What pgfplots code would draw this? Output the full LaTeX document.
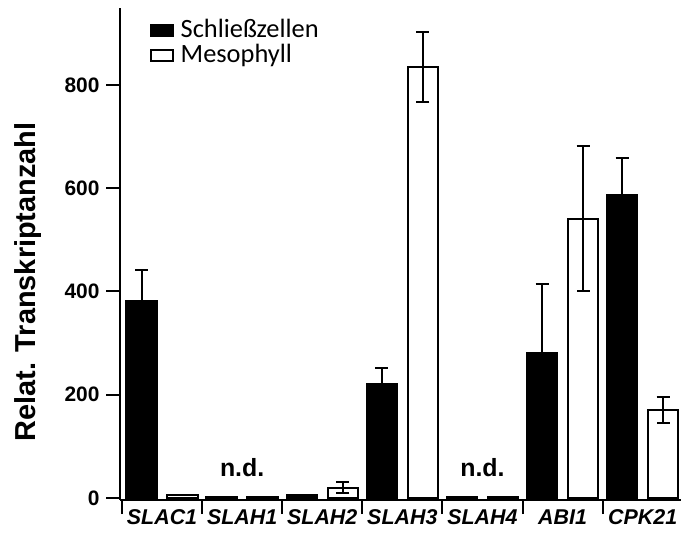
\documentclass[border=0pt]{standalone}
\usepackage{pgfplots}
\pgfplotsset{compat=1.18}
\usepackage{fontspec}
\setmainfont{Liberation Sans}
\newfontfamily\calibri{Carlito}
\begin{document}
\begin{tikzpicture}
\useasboundingbox (0,0) rectangle (681bp,533bp);
\begin{axis}[
  at={(120bp,33bp)}, anchor=south west,
  scale only axis, width=562.7bp, height=492bp,
  xmin=-0.525, xmax=6.5, ymin=-3.9, ymax=949,
  axis x line=bottom, axis y line=left,
  axis line style={-, line width=2bp},
  tick style={line width=2bp, black},
  tick align=outside, major tick length=14bp,
  ytick={0,200,400,600,800},
  yticklabel style={font=\fontsize{21}{21}\selectfont\bfseries, xshift=-3bp},
  /pgf/number format/assume math mode=true,
  xtick={-0.5,0.5,...,6.5},
  x tick label as interval,
  xticklabels={SLAC1,SLAH1,SLAH2,SLAH3,SLAH4,ABI1,CPK21},
  xticklabel style={font=\fontsize{21.5}{21.5}\selectfont\bfseries\itshape, yshift=8bp},
  clip=false,
  legend style={at={(rel axis cs:0.0533,0.98)}, anchor=north west, draw=none, fill=none,
    font=\calibri\fontsize{26.5}{26.5}\selectfont, inner sep=0pt, row sep=0pt, column sep=7bp,
    nodes={inner sep=0pt, text height=19bp, text depth=6bp}},
  legend cell align=left,
  error bars/error bar style={line width=2bp, black},
  error bars/error mark options={line width=2bp, mark size=6.5bp, black, rotate=90},
]
\addplot[ybar, bar width=0.38, bar shift=0, fill=black, draw=black, line width=2bp,
  legend image code/.code={\draw[fill=black, draw=black, line width=1.5bp] (0bp,-5.5bp) rectangle (22bp,5.5bp);},
  error bars/.cd, y dir=both, y explicit]
  table[x=x, y=y, y error=e] {
x y e
-0.256 382 60
0.744 2 0
1.744 5 0
2.744 220 32
3.744 2 0
4.744 280 134
5.744 587 71
};
\addlegendentry{Schließzellen}
\addplot[ybar, bar width=0.38, bar shift=0, fill=white, draw=black, line width=2bp,
  legend image code/.code={\draw[fill=white, draw=black, line width=1.5bp] (0bp,-5.5bp) rectangle (22bp,5.5bp);},
  error bars/.cd, y dir=both, y explicit]
  table[x=x, y=y, y error=e] {
x y e
0.256 5 0
1.256 2 0
2.256 20 11
3.256 835 68
4.256 2 0
5.256 541 141
6.256 171 25
};
\addlegendentry{Mesophyll}
\node[font=\fontsize{25}{25}\selectfont\bfseries, anchor=base] at (axis cs:1,41) {n.d.};
\node[font=\fontsize{25}{25}\selectfont\bfseries, anchor=base] at (axis cs:4,41) {n.d.};
\end{axis}
\node[rotate=90, anchor=base, font=\fontsize{29}{29}\selectfont\bfseries] at (35bp,251bp) {Relat. Transkriptanzahl};
\end{tikzpicture}
\end{document}
